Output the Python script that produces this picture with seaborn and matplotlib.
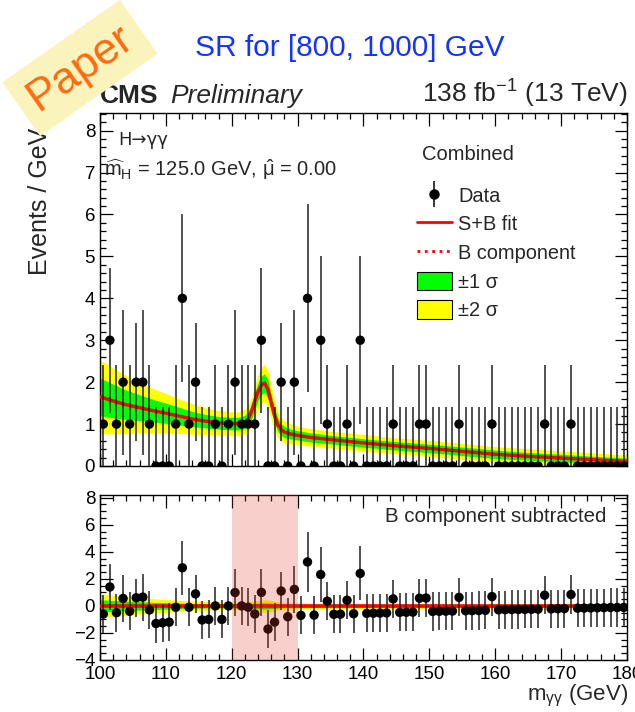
import numpy as np
import pandas as pd
import matplotlib
matplotlib.use("Agg")
import matplotlib.pyplot as plt
import seaborn as sns
from matplotlib.patches import Patch
from matplotlib.lines import Line2D
from matplotlib.ticker import MultipleLocator

# ---------------- data ----------------
bin_low, bin_width, n_bins = 100.0, 1.0, 80

data_counts = [1, 3, 1, 2, 1, 2, 2, 1, 0, 0,
               0, 1, 4, 1, 2, 0, 0, 1, 0, 1,
               2, 1, 1, 1, 3, 0, 0, 2, 0, 2,
               0, 4, 0, 3, 1, 0, 0, 1, 0, 3,
               0, 0, 0, 0, 1, 0, 0, 0, 1, 1,
               0, 0, 0, 0, 1, 0, 0, 0, 0, 1,
               0, 0, 0, 0, 0, 0, 0, 1, 0, 0,
               0, 1, 0, 0, 0, 0, 0, 0, 0, 0]

data_err = [1.41, 1.73, 1.41, 1.73, 1.41, 1.41, 1.73, 1.41, 1.41, 1.41,
            1.41, 1.41, 2.00, 1.41, 1.41, 1.41, 1.41, 1.41, 1.41, 1.41,
            1.73, 1.41, 1.41, 1.41, 1.73, 1.41, 1.41, 1.41, 1.41, 1.73,
            1.41, 2.24, 1.41, 2.00, 1.41, 1.41, 1.41, 1.41, 1.41, 2.00,
            1.41, 1.41, 1.41, 1.41, 1.41, 1.41, 1.41, 1.41, 1.41, 1.41,
            1.41, 1.41, 1.41, 1.41, 1.41, 1.41, 1.41, 1.41, 1.41, 1.41,
            1.41, 1.41, 1.41, 1.41, 1.41, 1.41, 1.41, 1.41, 1.41, 1.41,
            1.41, 1.41, 1.41, 1.41, 1.41, 1.41, 1.41, 1.41, 1.41, 1.41]

residuals = [-0.60, 1.40, -0.50, 0.55, -0.40, 0.60, 0.65, -0.30, -1.30, -1.25,
             -1.20, -0.10, 2.82, -0.10, 0.89, -1.04, -1.00, 0.00, -1.00, 0.00,
             0.99, 0.00, -0.10, -0.60, 1.00, -1.71, -1.20, 1.10, -0.80, 1.22,
             -0.70, 3.25, -0.68, 2.32, 0.35, -0.62, -0.61, 0.42, -0.58, 2.40,
             -0.55, -0.54, -0.53, -0.52, 0.52, -0.48, -0.47, -0.46, 0.57, 0.58,
             -0.41, -0.40, -0.39, -0.38, 0.63, -0.36, -0.35, -0.34, -0.33, 0.69,
             -0.29, -0.28, -0.27, -0.27, -0.26, -0.25, -0.24, 0.79, -0.22, -0.21,
             -0.20, 0.84, -0.17, -0.16, -0.15, -0.14, -0.13, -0.12, -0.12, -0.11]

fit_mass = [100, 102, 104, 106, 108, 110, 112, 114, 116, 118, 120, 121, 122, 122.5,
            123, 123.5, 124, 124.5, 125, 125.5, 126, 126.5, 127, 127.5, 128, 129,
            130, 132, 135, 140, 145, 150, 155, 160, 165, 170, 175, 180]
fit_value = [1.65, 1.55, 1.46, 1.39, 1.32, 1.26, 1.19, 1.12, 1.07, 1.03, 1.01, 1.01, 1.05, 1.12,
             1.30, 1.55, 1.78, 1.93, 1.98, 1.82, 1.50, 1.20, 0.98, 0.87, 0.81, 0.76,
             0.73, 0.68, 0.63, 0.55, 0.48, 0.42, 0.35, 0.28, 0.23, 0.19, 0.15, 0.11]
sigma1 = [0.45, 0.40, 0.35, 0.31, 0.27, 0.24, 0.21, 0.18, 0.16, 0.15, 0.15, 0.15, 0.16, 0.17,
          0.18, 0.20, 0.21, 0.22, 0.22, 0.22, 0.20, 0.18, 0.16, 0.14, 0.13, 0.12,
          0.11, 0.11, 0.10, 0.10, 0.10, 0.10, 0.10, 0.10, 0.09, 0.09, 0.08, 0.08]
sigma2 = [0.88, 0.78, 0.69, 0.60, 0.53, 0.47, 0.41, 0.36, 0.32, 0.29, 0.28, 0.28, 0.30, 0.32,
          0.35, 0.38, 0.41, 0.43, 0.45, 0.44, 0.40, 0.35, 0.31, 0.28, 0.26, 0.24,
          0.22, 0.21, 0.20, 0.20, 0.19, 0.19, 0.19, 0.18, 0.18, 0.17, 0.16, 0.15]

blind_window = [120, 130]
x_ticks = [100, 110, 120, 130, 140, 150, 160, 170, 180]
legend_labels = ["Data", "S+B fit", "B component", "±1 σ", "±2 σ"]

# ---------------- style ----------------
sns.set_theme(style="ticks")
plt.rcParams["font.family"] = ["Liberation Sans", "DejaVu Sans"]
plt.rcParams["mathtext.fontset"] = "custom"
plt.rcParams["mathtext.rm"] = "Liberation Sans"
plt.rcParams["mathtext.it"] = "Liberation Sans:italic"
plt.rcParams["mathtext.bf"] = "Liberation Sans:bold"

centers = bin_low + bin_width * (np.arange(n_bins) + 0.5)
df = pd.DataFrame({"m": centers, "n": data_counts, "err": data_err, "res": residuals})
fit = pd.DataFrame({"m": fit_mass, "y": fit_value, "s1": sigma1, "s2": sigma2})

W, H = 635, 712
fig = plt.figure(figsize=(W / 100, H / 100), dpi=100)

def fx(px):
    return px / W

def fy(py):
    return 1 - py / H

ax1 = fig.add_axes([fx(100), fy(466), fx(527), (466 - 113) / H])
ax2 = fig.add_axes([fx(100), fy(660), fx(527), (660 - 495) / H])

YELLOW, GREEN = "#FFFF00", "#00FF00"

# ---------------- main panel ----------------
ax1.fill_between(fit["m"], fit["y"] - fit["s2"], fit["y"] + fit["s2"], color=YELLOW, lw=0, zorder=1)
ax1.fill_between(fit["m"], fit["y"] - fit["s1"], fit["y"] + fit["s1"], color=GREEN, lw=0, zorder=2)
sns.lineplot(data=fit, x="m", y="y", ax=ax1, color="red", lw=1.5, ls=":", zorder=3)
sns.lineplot(data=fit, x="m", y="y", ax=ax1, color="red", lw=2.4, zorder=4)
ax1.errorbar(df["m"], df["n"], yerr=df["err"], fmt="none", ecolor="#202020",
             elinewidth=1.1, capsize=0, zorder=5)
sns.scatterplot(data=df, x="m", y="n", ax=ax1, color="black", s=46, edgecolor="none",
                zorder=6, legend=False)

ax1.set_xlim(100, 180)
ax1.set_ylim(0, 8.42)
ax1.set_xlabel("")
ax1.set_ylabel("")
ax1.set_xticks(x_ticks)
ax1.xaxis.set_minor_locator(MultipleLocator(2))
ax1.yaxis.set_major_locator(MultipleLocator(1))
ax1.yaxis.set_minor_locator(MultipleLocator(0.2))
ax1.tick_params(labelbottom=False)

fig.text(fx(118), fy(140), "H→γγ", family=["DejaVu Sans"], fontsize=13, va="center", ha="left")
fig.text(fx(104), fy(170), r"$\widehat{\mathrm{m}}_{\mathrm{H}}$ = 125.0 GeV, $\hat{\mathrm{\mu}}$ = 0.00",
         fontsize=14.5, va="center", ha="left")
fig.text(fx(422), fy(155), "Combined", fontsize=14.5, va="center", ha="left")

data_handle = (Line2D([], [], color="black", marker="|", ms=19, mew=1.1, ls="none"),
               Line2D([], [], color="black", marker="o", ms=6.5, ls="none"))
handles = [data_handle,
           Line2D([], [], color="red", lw=2),
           Line2D([], [], color="red", lw=2, ls=":"),
           Patch(facecolor=GREEN, edgecolor="black", lw=0.8),
           Patch(facecolor=YELLOW, edgecolor="black", lw=0.8)]
ax1.legend(handles, legend_labels, loc="upper left",
           bbox_to_anchor=(0.6015, 0.794), frameon=False, fontsize=14.4,
           handlelength=1.75, handleheight=1.04, labelspacing=0.43,
           handletextpad=0.3, borderpad=0, borderaxespad=0)

# ---------------- ratio panel ----------------
zero = np.zeros(len(fit))
ax2.fill_between(fit["m"], -fit["s2"], fit["s2"], color=YELLOW, lw=0, zorder=1)
ax2.fill_between(fit["m"], -fit["s1"], fit["s1"], color=GREEN, lw=0, zorder=2)
ax2.plot(fit["m"], zero, color="red", lw=2.6, zorder=3)
ax2.errorbar(df["m"], df["res"], yerr=df["err"], fmt="none", ecolor="#202020",
             elinewidth=1.1, capsize=0, zorder=5)
sns.scatterplot(data=df, x="m", y="res", ax=ax2, color="black", s=46, edgecolor="none",
                zorder=6, legend=False)
ax2.axvspan(blind_window[0], blind_window[1], color="#E43A26", alpha=0.24, lw=0, zorder=7)

ax2.set_xlim(100, 180)
ax2.set_ylim(-4, 8.2)
ax2.set_xticks(x_ticks)
ax2.xaxis.set_minor_locator(MultipleLocator(2))
ax2.yaxis.set_major_locator(MultipleLocator(2))
ax2.yaxis.set_minor_locator(MultipleLocator(0.5))
ax2.set_xlabel("")
ax2.set_ylabel("")
fig.text(fx(606), fy(517), "B component subtracted", fontsize=14.7, ha="right", va="center")

for ax in (ax1, ax2):
    ax.tick_params(which="both", direction="in", top=True, right=True, colors="black",
                   labelsize=13.5, width=0.9)
    ax.tick_params(which="major", length=9)
    ax.tick_params(which="minor", length=4.5)
    for s in ax.spines.values():
        s.set_linewidth(1.0)
        s.set_color("black")
    ax.set_facecolor("white")
ax2.tick_params(axis="x", pad=4)

# ---------------- labels / header ----------------
fig.text(fx(628), fy(696), r"m$_{\mathrm{γγ}}$ (GeV)", ha="right", va="center", fontsize=16)
fig.text(fx(40), fy(275), "Events / GeV", rotation=90, ha="center", va="bottom", fontsize=18)
fig.text(fx(350), fy(48), "SR for [800, 1000] GeV", ha="center", va="center", fontsize=21.5,
         color="#1433FF")
fig.text(fx(100), fy(103), "CMS", ha="left", va="baseline", fontsize=19, fontweight="bold")
fig.text(fx(170), fy(103), "Preliminary", ha="left", va="baseline", fontsize=19, style="italic")
fig.text(fx(628), fy(103), r"138 fb$^{-1}$ (13 TeV)", ha="right", va="baseline", fontsize=19)

# "Paper" stamp
fig.text(fx(80), fy(68), "Paper", rotation=35, ha="center", va="center", fontsize=32,
         color="#FF6A10", rotation_mode="anchor",
         bbox=dict(facecolor="#FAF4BC", edgecolor="none", pad=9), zorder=10)

fig.savefig("out.png", dpi=100)
